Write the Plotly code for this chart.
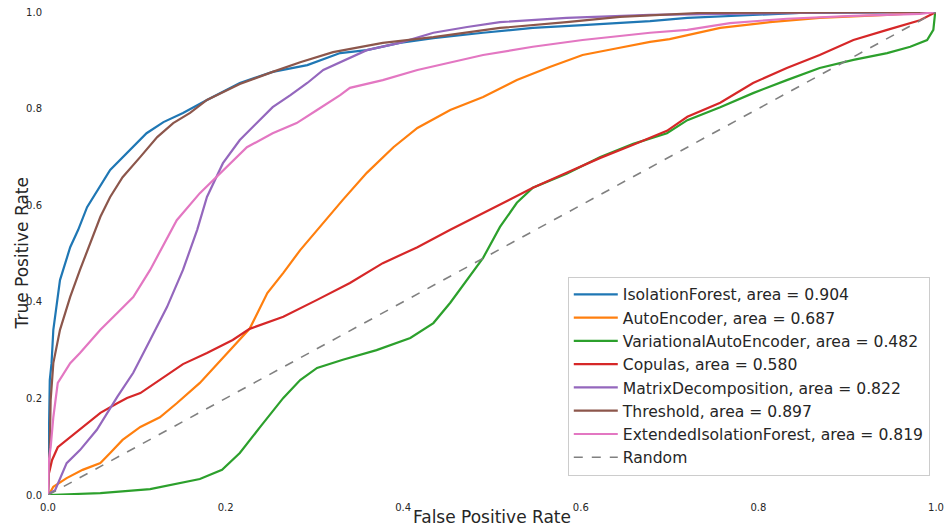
import plotly.graph_objects as go

# ---- data (FPR, TPR) ----
if_fpr = [0, 0.001, 0.002, 0.004, 0.006, 0.0135, 0.025, 0.034, 0.044, 0.070, 0.089, 0.111, 0.130, 0.152, 0.179, 0.216, 0.253, 0.292, 0.329, 0.359, 0.396, 0.434, 0.490, 0.546, 0.602, 0.678, 0.720, 0.794, 0.847, 1.0]
if_tpr = [0, 0.114, 0.238, 0.273, 0.342, 0.445, 0.513, 0.549, 0.596, 0.673, 0.708, 0.749, 0.772, 0.791, 0.818, 0.853, 0.876, 0.890, 0.915, 0.921, 0.936, 0.946, 0.957, 0.967, 0.973, 0.981, 0.988, 0.994, 0.998, 1.0]

ae_fpr = [0, 0.002, 0.006, 0.021, 0.039, 0.059, 0.070, 0.084, 0.104, 0.126, 0.145, 0.171, 0.202, 0.227, 0.247, 0.265, 0.284, 0.303, 0.332, 0.359, 0.389, 0.416, 0.453, 0.490, 0.528, 0.565, 0.602, 0.641, 0.678, 0.700, 0.757, 0.813, 0.869, 0.945, 1.0]
ae_tpr = [0, 0.004, 0.017, 0.035, 0.052, 0.066, 0.087, 0.114, 0.141, 0.161, 0.190, 0.232, 0.294, 0.344, 0.418, 0.460, 0.507, 0.549, 0.611, 0.667, 0.720, 0.760, 0.797, 0.824, 0.859, 0.886, 0.911, 0.925, 0.938, 0.944, 0.967, 0.979, 0.988, 0.994, 1.0]

vae_fpr = [0, 0.059, 0.115, 0.152, 0.171, 0.196, 0.216, 0.239, 0.265, 0.284, 0.303, 0.332, 0.370, 0.408, 0.434, 0.453, 0.472, 0.490, 0.509, 0.528, 0.546, 0.584, 0.622, 0.659, 0.697, 0.720, 0.757, 0.794, 0.832, 0.869, 0.907, 0.945, 0.971, 0.990, 0.997, 0.999, 1.0]
vae_tpr = [0, 0.004, 0.012, 0.025, 0.033, 0.052, 0.087, 0.141, 0.201, 0.238, 0.263, 0.280, 0.300, 0.325, 0.356, 0.398, 0.445, 0.491, 0.555, 0.605, 0.636, 0.665, 0.700, 0.727, 0.749, 0.776, 0.803, 0.832, 0.859, 0.884, 0.901, 0.915, 0.928, 0.942, 0.963, 0.998, 1.0]

cop_fpr = [0, 0.0005, 0.002, 0.0045, 0.011, 0.021, 0.039, 0.059, 0.078, 0.089, 0.104, 0.126, 0.152, 0.179, 0.208, 0.227, 0.265, 0.303, 0.340, 0.377, 0.416, 0.453, 0.490, 0.520, 0.546, 0.584, 0.622, 0.659, 0.697, 0.720, 0.757, 0.794, 0.832, 0.869, 0.907, 0.945, 0.982, 1.0]
cop_tpr = [0, 0.041, 0.052, 0.072, 0.099, 0.114, 0.141, 0.170, 0.190, 0.201, 0.211, 0.238, 0.271, 0.294, 0.321, 0.344, 0.369, 0.404, 0.439, 0.480, 0.513, 0.549, 0.584, 0.611, 0.636, 0.667, 0.698, 0.725, 0.754, 0.783, 0.812, 0.853, 0.884, 0.911, 0.942, 0.963, 0.983, 1.0]

md_fpr = [0, 0.002, 0.008, 0.021, 0.036, 0.055, 0.078, 0.096, 0.115, 0.134, 0.152, 0.168, 0.179, 0.197, 0.216, 0.231, 0.253, 0.273, 0.292, 0.310, 0.329, 0.359, 0.396, 0.434, 0.472, 0.509, 0.584, 0.678, 0.847, 1.0]
md_tpr = [0, 0.004, 0.010, 0.066, 0.093, 0.135, 0.203, 0.253, 0.321, 0.389, 0.466, 0.549, 0.617, 0.687, 0.735, 0.762, 0.803, 0.828, 0.853, 0.880, 0.896, 0.921, 0.936, 0.957, 0.969, 0.979, 0.988, 0.994, 0.998, 1.0]

th_fpr = [0, 0.001, 0.002, 0.003, 0.006, 0.0135, 0.025, 0.036, 0.053, 0.059, 0.070, 0.084, 0.104, 0.123, 0.141, 0.160, 0.179, 0.216, 0.253, 0.284, 0.321, 0.377, 0.434, 0.509, 0.584, 0.644, 0.734, 1.0]
th_tpr = [0, 0.052, 0.099, 0.197, 0.273, 0.342, 0.410, 0.466, 0.549, 0.576, 0.617, 0.658, 0.700, 0.741, 0.770, 0.791, 0.818, 0.851, 0.876, 0.896, 0.917, 0.936, 0.948, 0.967, 0.979, 0.990, 0.998, 1.0]

eif_fpr = [0, 0.001, 0.003, 0.006, 0.011, 0.025, 0.036, 0.059, 0.078, 0.096, 0.115, 0.137, 0.145, 0.171, 0.186, 0.202, 0.224, 0.253, 0.280, 0.303, 0.329, 0.340, 0.377, 0.416, 0.453, 0.490, 0.546, 0.602, 0.678, 0.720, 0.768, 0.832, 0.907, 0.982, 1.0]
eif_tpr = [0, 0.072, 0.099, 0.161, 0.232, 0.273, 0.294, 0.342, 0.377, 0.410, 0.466, 0.542, 0.569, 0.625, 0.652, 0.679, 0.720, 0.749, 0.770, 0.797, 0.828, 0.843, 0.859, 0.880, 0.896, 0.911, 0.928, 0.942, 0.957, 0.963, 0.977, 0.986, 0.992, 0.996, 1.0]

rand_fpr = [0, 1]
rand_tpr = [0, 1]

names = ["IsolationForest", "AutoEncoder", "VariationalAutoEncoder", "Copulas",
         "MatrixDecomposition", "Threshold", "ExtendedIsolationForest"]
areas = [0.904, 0.687, 0.482, 0.580, 0.822, 0.897, 0.819]
colors = ["#1f77b4", "#ff7f0e", "#2ca02c", "#d62728", "#9467bd", "#8c564b", "#e377c2"]
curves = [(if_fpr, if_tpr), (ae_fpr, ae_tpr), (vae_fpr, vae_tpr), (cop_fpr, cop_tpr),
          (md_fpr, md_tpr), (th_fpr, th_tpr), (eif_fpr, eif_tpr)]
tick_vals = [0.0, 0.2, 0.4, 0.6, 0.8, 1.0]
tick_text = ["0.0", "0.2", "0.4", "0.6", "0.8", "1.0"]

fig = go.Figure()
for name, area, color, (fx, ty) in zip(names, areas, colors, curves):
    fig.add_trace(go.Scatter(x=fx, y=ty, mode="lines",
                             name=f"{name}, area = {area:.3f}",
                             line=dict(color=color, width=2.2)))
fig.add_trace(go.Scatter(x=rand_fpr, y=rand_tpr, mode="lines", name="Random",
                         line=dict(color="#808080", width=1.6, dash="dash")))

fig.update_layout(
    width=944, height=527,
    margin=dict(l=48, r=8, t=12, b=32, autoexpand=False),
    paper_bgcolor="white", plot_bgcolor="white",
    font=dict(family="DejaVu Sans", color="#262626"),
    legend=dict(x=0.993, y=0.04, xanchor="right", yanchor="bottom",
                bgcolor="white", bordercolor="#cccccc", borderwidth=1,
                itemwidth=44,
                font=dict(size=15.6, color="#262626"), tracegroupgap=0),
    showlegend=True,
    annotations=[dict(text="True Positive Rate", textangle=-90,
                      xref="paper", yref="paper", x=-0.0293, y=0.5,
                      xanchor="center", yanchor="middle", showarrow=False,
                      font=dict(size=17, color="#262626"))],
)
fig.update_xaxes(range=[0, 1], tickvals=tick_vals, ticktext=tick_text,
                 showgrid=False, zeroline=False, showline=False, ticks="",
                 automargin=False, ticklabelstandoff=5,
                 tickfont=dict(size=10, color="#262626"),
                 title=dict(text="False Positive Rate", font=dict(size=17), standoff=2))
fig.update_yaxes(range=[0, 1], tickvals=tick_vals, ticktext=tick_text,
                 showgrid=False, zeroline=False, showline=False, ticks="",
                 automargin=False, ticklabelstandoff=5,
                 tickfont=dict(size=10, color="#262626"))

fig.write_html("out.html")
